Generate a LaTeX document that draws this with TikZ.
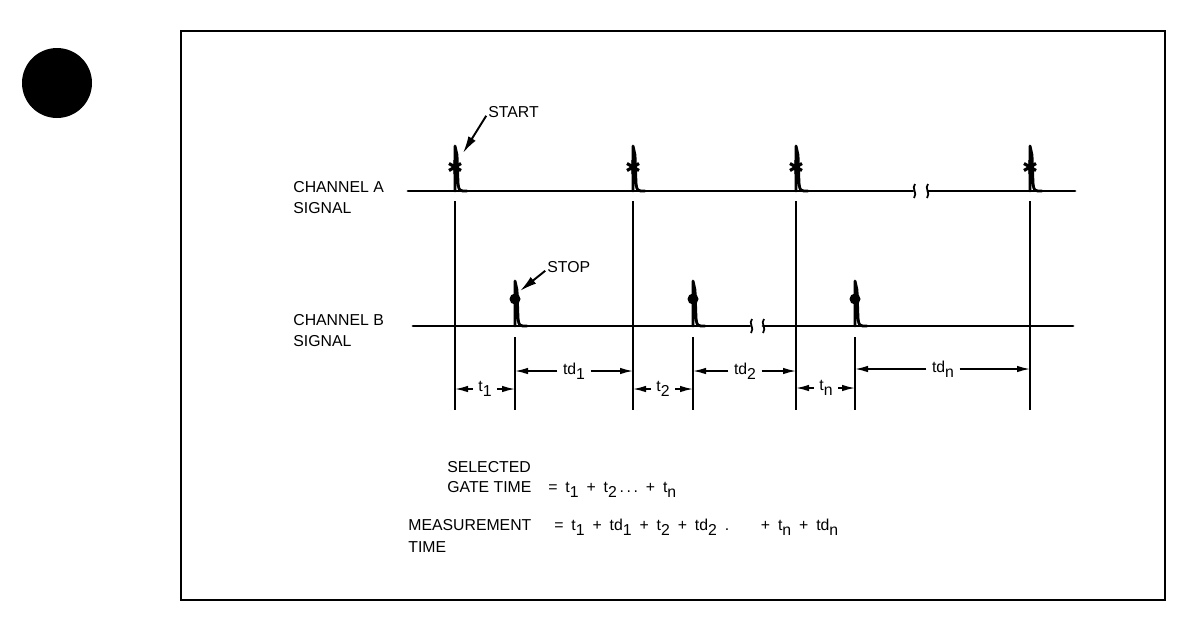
\documentclass[tikz,border=0pt]{standalone}
\usepackage{fontspec}
\setmainfont{Liberation Sans}
\usetikzlibrary{arrows.meta, positioning}
\newcommand{\lowsub}[1]{\raisebox{-0.6ex}{#1}}

\begin{document}
\begin{tikzpicture}[x=0.02cm, y=-0.02cm,
      every node/.style={font=\fontsize{9}{12}\selectfont, inner sep=0pt},
      trace/.style={line width=1.6pt, line join=round, line cap=round},
      guide/.style={line width=0.7pt},
      dim/.style={-{Latex[length=2.6mm, width=1.3mm]}, line width=0.8pt},
      callout/.style={-{Latex[length=3.4mm, width=1.7mm]}, line width=1.1pt},
      dimlabel/.style={inner xsep=3pt},
      pics/spike/.style={code={\draw[trace] (0,0) -- (0,-45) -- (2,-36) -- (3,-8) .. controls (4,0) .. (12,0);}},
      pics/asterisk/.style={code={\draw[line width=1.8pt] (0,-7) -- (0,7) (-6,-3.5) -- (6,3.5) (-6,3.5) -- (6,-3.5);}},
      pics/squiggle/.style={code={\draw[line width=1pt] (0,-7) .. controls (-4,-3) and (3,2) .. (-1,7);}}]
    \useasboundingbox (0,0) rectangle (1200,623);
    % punch hole and frame
    \fill (57,83) circle (35);
    \draw[line width=1.3pt] (181,31) rectangle (1165,600);
    % signal names
    \node[align=left, anchor=north west] (chA) at (293,181) {CHANNEL A\\SIGNAL};
    \node[align=left, anchor=north west] (chB) at (293,314) {CHANNEL B\\SIGNAL};
    % channel A trace
    \draw[trace] (408,191) -- (913,191);
    \draw[trace] (928,191) -- (1075,191);
    \pic at (915,191) {squiggle};
    \pic at (928,191) {squiggle};
    \foreach \x [count=\i] in {455,633,796,1030} {
      \coordinate (a\i) at (\x,191);
      \pic at (a\i) {spike};
      \pic at (\x,167) {asterisk};
      \draw[guide] (\x,201) -- (\x,410);
    }
    % channel B trace
    \draw[trace] (413,326) -- (750,326);
    \draw[trace] (763,326) -- (1073,326);
    \pic at (752,326) {squiggle};
    \pic at (764,326) {squiggle};
    \foreach \x [count=\i] in {515,693,855} {
      \coordinate (b\i) at (\x,326);
      \pic at (b\i) {spike};
      \fill (\x,299) circle (5.5);
      \draw[guide] (\x,337) -- (\x,410);
    }
    % start / stop callouts
    \node[anchor=base west] (start) at (488,117) {START};
    \coordinate (startTip) at (463,153);
    \draw[callout] ([xshift=-1pt, yshift=1pt]start.south west) -- (startTip);
    \node[anchor=base west] (stop) at (547,272) {STOP};
    \coordinate (stopTip) at (520,291);
    \draw[callout] ([xshift=-1pt, yshift=1pt]stop.south west) -- (stopTip);
    % intervals
    \node[dimlabel] (t1) at (485,389) {t\lowsub{1}};
    \node[dimlabel] (td1) at (574,371) {td\lowsub{1}};
    \node[dimlabel] (t2) at (663,389) {t\lowsub{2}};
    \node[dimlabel] (td2) at (745,371) {td\lowsub{2}};
    \node[dimlabel] (tn) at (826,388) {t\lowsub{n}};
    \node[dimlabel] (tdn) at (943,369) {td\lowsub{n}};
    \draw[dim] (t1.west) -- (a1 |- t1.west);
    \draw[dim] (t1.east) -- (b1 |- t1.east);
    \draw[dim] (td1.west) -- (b1 |- td1.west);
    \draw[dim] (td1.east) -- (a2 |- td1.east);
    \draw[dim] (t2.west) -- (a2 |- t2.west);
    \draw[dim] (t2.east) -- (b2 |- t2.east);
    \draw[dim] (td2.west) -- (b2 |- td2.west);
    \draw[dim] (td2.east) -- (a3 |- td2.east);
    \draw[dim] (tn.west) -- (a3 |- tn.west);
    \draw[dim] (tn.east) -- (b3 |- tn.east);
    \draw[dim] (tdn.west) -- (b3 |- tdn.west);
    \draw[dim] (tdn.east) -- (a4 |- tdn.east);
    % totals
    \node[anchor=base west] (sel) at (447,472) {SELECTED};
    \node[anchor=base west] (gate) at (447,492) {GATE TIME};
    \node[anchor=base west] (gateEq) at (548,492)
      {=\enspace t\lowsub{1}\enspace+\enspace t\lowsub{2}\,.\,.\,.\enspace+\enspace t\lowsub{n}};
    \node[anchor=base west] (meas) at (408,530) {MEASUREMENT};
    \node[anchor=base west] (measT) at (408,552) {TIME};
    \node[anchor=base west] (measEq) at (554,530)
      {=\enspace t\lowsub{1}\enspace+\enspace td\lowsub{1}\enspace+\enspace t\lowsub{2}\enspace+\enspace td\lowsub{2}\enspace.\qquad+\enspace t\lowsub{n}\enspace+\enspace td\lowsub{n}};
  \end{tikzpicture}
\end{document}
